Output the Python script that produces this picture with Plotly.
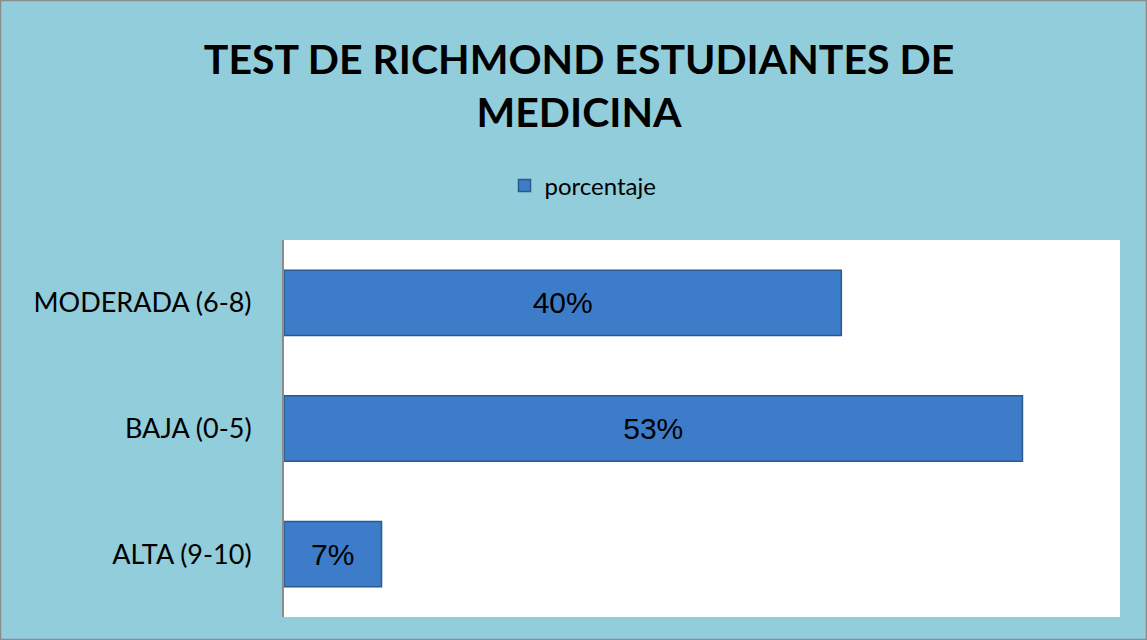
import plotly.graph_objects as go

categories = ["ALTA (9-10)", "BAJA (0-5)", "MODERADA (6-8)"]
values = [0.07, 0.53, 0.40]
labels = ["7%", "53%", "40%"]
series_name = "porcentaje"

W, H = 1147, 640
ml, mr, mt, mb = 284, 27, 240, 23
pw, ph = W - ml - mr, H - mt - mb

fig = go.Figure()
fig.add_trace(go.Bar(
    y=categories, x=values, orientation="h", name=series_name,
    text=labels, textposition="inside", insidetextanchor="middle", textangle=0,
    textfont=dict(family="Liberation Sans, Arial", size=30, color="black"),
    marker=dict(color="#3D7CC9", line=dict(color="#2C5A8C", width=1.5)),
    width=0.52, showlegend=True,
))

fig.update_layout(
    width=W, height=H, autosize=False,
    margin=dict(l=ml, r=mr, t=mt, b=mb, autoexpand=False),
    paper_bgcolor="#92CDDC", plot_bgcolor="white",
    title=dict(text="<b>TEST DE RICHMOND ESTUDIANTES DE<br>MEDICINA</b>",
               x=579 / W, xanchor="center", y=1 - 74 / H, yanchor="middle",
               font=dict(family="Lato, Open Sans", size=41, color="black")),
    legend=dict(orientation="h", x=(583 - ml) / pw, xanchor="center",
                y=1 + (240 - 186) / ph, yanchor="middle",
                font=dict(family="Lato, Open Sans", size=24, color="black"),
                bgcolor="rgba(0,0,0,0)", itemwidth=30),
    showlegend=True,
    bargap=0.48,
)
fig.update_xaxes(range=[0, 0.6], visible=False, showgrid=False, fixedrange=True)
fig.update_yaxes(showline=True, linecolor="#8c8c8c", linewidth=2,
                 ticks="", ticklabelstandoff=25, automargin=False,
                 tickfont=dict(family="Lato, Open Sans", size=27, color="black"),
                 showgrid=False, fixedrange=True)
fig.add_shape(type="rect", xref="paper", yref="paper",
              x0=-ml / pw + 0.5 / pw, x1=1 + mr / pw - 0.5 / pw,
              y0=-mb / ph + 0.5 / ph, y1=1 + mt / ph - 0.5 / ph,
              line=dict(color="#8c8c8c", width=1.5))
fig.write_html("out.html", config={"displayModeBar": False},
               post_script="document.body.style.margin='0';")
